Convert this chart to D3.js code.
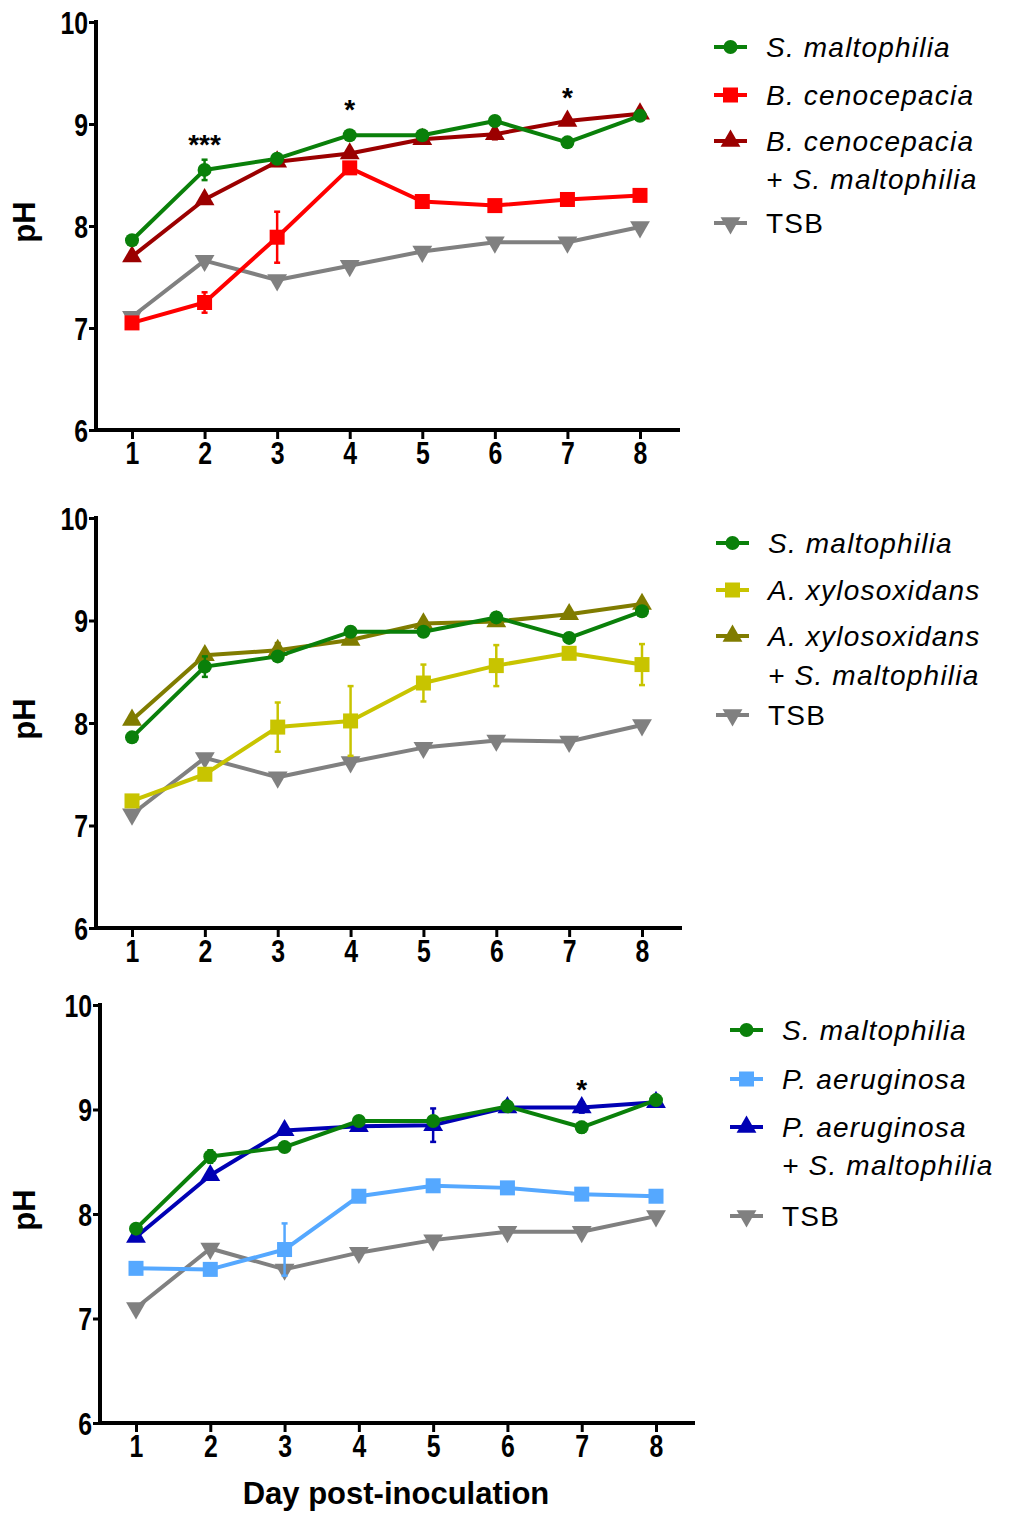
<!DOCTYPE html>
<html>
<head>
<meta charset="utf-8">
<script src="https://cdn.jsdelivr.net/npm/d3@7"></script>
<style>
  body { margin: 0; background: #fff; }
  svg { display: block; }
  text { font-family: "Liberation Sans", Arial, sans-serif; }
</style>
</head>
<body>
<svg id="chart" width="1010" height="1515"></svg>
<script>
var days = [1, 2, 3, 4, 5, 6, 7, 8];
var yTicks = [6, 7, 8, 9, 10];

// panel 1
var smA = [7.86, 8.55, 8.66, 8.89, 8.89, 9.03, 8.82, 9.08];
var smAerr = [0.03, 0.1, 0.03, 0.03, 0.03, 0.03, 0.03, 0.03];
var bc = [7.05, 7.25, 7.89, 8.57, 8.24, 8.20, 8.26, 8.30];
var bcErr = [0.03, 0.1, 0.25, 0.05, 0.03, 0.05, 0.03, 0.03];
var bcSm = [7.70, 8.26, 8.63, 8.71, 8.85, 8.90, 9.03, 9.10];
var bcSmErr = [0.02, 0.03, 0.04, 0.03, 0.03, 0.05, 0.03, 0.03];
var tsb = [7.11, 7.66, 7.47, 7.61, 7.75, 7.84, 7.84, 7.99];
var tsbErr = [0.02, 0.03, 0.03, 0.03, 0.03, 0.03, 0.02, 0.03];

// panel 2
var smB = [7.86, 8.55, 8.65, 8.89, 8.89, 9.03, 8.83, 9.09];
var ax = [7.24, 7.50, 7.96, 8.02, 8.39, 8.56, 8.68, 8.57];
var axErr = [0.03, 0.03, 0.24, 0.34, 0.18, 0.2, 0.05, 0.2];
var axSm = [8.03, 8.66, 8.71, 8.81, 8.97, 8.99, 9.06, 9.16];
var axSmErr = [0.03, 0.03, 0.07, 0.03, 0.03, 0.03, 0.04, 0.04];
var tsbB = [7.11, 7.66, 7.47, 7.62, 7.76, 7.83, 7.82, 7.98];

// panel 3
var smC = [7.86, 8.55, 8.64, 8.89, 8.89, 9.03, 8.83, 9.09];
var smCerr = [0.03, 0.06, 0.03, 0.03, 0.03, 0.03, 0.05, 0.03];
var pa = [7.48, 7.47, 7.66, 8.17, 8.27, 8.25, 8.19, 8.17];
var paErr = [0.02, 0.03, 0.25, 0.03, 0.03, 0.03, 0.03, 0.03];
var paSm = [7.78, 8.37, 8.80, 8.84, 8.85, 9.02, 9.02, 9.07];
var paSmErr = [0.03, 0.03, 0.03, 0.03, 0.16, 0.03, 0.05, 0.03];
var tsbC = [7.10, 7.67, 7.47, 7.63, 7.75, 7.83, 7.83, 7.98];

var panels = [
  {
    top: 22, bottom: 430, axisX: 96, x1: 132, x8: 640, xEnd: 680,
    legX: 714, legY: [47, 95, 141, 223], legSecond: 179,
    series: [
      { name: "S. maltophilia", values: smA, err: smAerr, color: "#0a800a", shape: "circle" },
      { name: "B. cenocepacia", values: bc, err: bcErr, color: "#ff0000", shape: "square" },
      { name: "B. cenocepacia", second: "+ S. maltophilia", values: bcSm, err: bcSmErr, color: "#9b0000", shape: "up" },
      { name: "TSB", values: tsb, err: tsbErr, color: "#808080", shape: "down", plain: true }
    ],
    stars: [{ day: 2, text: "***", y: 8.82 }, { day: 4, text: "*", y: 9.17 }, { day: 7, text: "*", y: 9.28 }]
  },
  {
    top: 518, bottom: 928, axisX: 96, x1: 132, x8: 642, xEnd: 682,
    legX: 716, legY: [543, 590, 636, 715], legSecond: 675,
    series: [
      { name: "S. maltophilia", values: smB, err: smAerr, color: "#0a800a", shape: "circle" },
      { name: "A. xylosoxidans", values: ax, err: axErr, color: "#c8c400", shape: "square" },
      { name: "A. xylosoxidans", second: "+ S. maltophilia", values: axSm, err: axSmErr, color: "#807c00", shape: "up" },
      { name: "TSB", values: tsbB, err: tsbErr, color: "#808080", shape: "down", plain: true }
    ],
    stars: []
  },
  {
    top: 1005, bottom: 1423, axisX: 100, x1: 136, x8: 656, xEnd: 695,
    legX: 730, legY: [1030, 1079, 1127, 1216], legSecond: 1165,
    series: [
      { name: "S. maltophilia", values: smC, err: smCerr, color: "#0a800a", shape: "circle" },
      { name: "P. aeruginosa", values: pa, err: paErr, color: "#55a8ff", shape: "square" },
      { name: "P. aeruginosa", second: "+ S. maltophilia", values: paSm, err: paSmErr, color: "#0000b4", shape: "up" },
      { name: "TSB", values: tsbC, err: tsbErr, color: "#808080", shape: "down", plain: true }
    ],
    stars: [{ day: 7, text: "*", y: 9.22 }]
  }
];

var svg = d3.select("#chart");

function drawMarker(g, shape, color, cx, cy) {
  if (shape === "circle") {
    g.append("circle").attr("cx", cx).attr("cy", cy).attr("r", 7).attr("fill", color);
  } else if (shape === "square") {
    g.append("rect").attr("x", cx - 7.5).attr("y", cy - 7.5).attr("width", 15).attr("height", 15).attr("fill", color);
  } else {
    var sym = d3.symbol().type(d3.symbolTriangle).size(170);
    g.append("path").attr("d", sym())
      .attr("transform", "translate(" + cx + "," + cy + ")" + (shape === "down" ? " rotate(180)" : ""))
      .attr("fill", color);
  }
}

panels.forEach(function (p) {
  var x = d3.scaleLinear().domain([1, 8]).range([p.x1, p.x8]);
  var y = d3.scaleLinear().domain([6, 10]).range([p.bottom, p.top]);
  var g = svg.append("g");

  // axes
  var yAxis = g.append("g").attr("transform", "translate(" + p.axisX + ",0)")
    .call(d3.axisLeft(y).tickValues(yTicks).tickFormat(d3.format("d")).tickSize(7).tickPadding(3).tickSizeOuter(0));
  yAxis.select(".domain").remove();
  yAxis.selectAll(".tick line").attr("stroke-width", 3);
  yAxis.selectAll(".tick text")
    .style("font-size", "31px").style("font-weight", "bold").attr("fill", "#000")
    .attr("dy", "0.36em").attr("transform", "scale(0.8,1)");

  var xAxis = g.append("g").attr("transform", "translate(0," + p.bottom + ")")
    .call(d3.axisBottom(x).tickValues(days).tickFormat(d3.format("d")).tickSize(9).tickPadding(3).tickSizeOuter(0));
  xAxis.select(".domain").remove();
  xAxis.selectAll(".tick line").attr("stroke-width", 3);
  xAxis.selectAll(".tick text")
    .style("font-size", "31px").style("font-weight", "bold").attr("fill", "#000")
    .attr("transform", "scale(0.8,1)");

  g.append("line").attr("x1", p.axisX).attr("x2", p.axisX)
    .attr("y1", p.top - 2).attr("y2", p.bottom + 2).attr("stroke", "#000").attr("stroke-width", 4);
  g.append("line").attr("x1", p.axisX - 2).attr("x2", p.xEnd)
    .attr("y1", p.bottom).attr("y2", p.bottom).attr("stroke", "#000").attr("stroke-width", 4);

  g.append("text")
    .attr("transform", "translate(35," + (y(8) - 4) + ") rotate(-90)")
    .attr("text-anchor", "middle")
    .style("font-weight", "bold").style("font-size", "31px")
    .text("pH");

  var line = d3.line().x(function (d, i) { return x(days[i]); }).y(function (d) { return y(d); });

  // draw TSB first, then others so S. maltophilia sits on top
  var order = [3, 1, 2, 0];
  order.forEach(function (k) {
    var s = p.series[k];
    var sg = g.append("g");
    sg.append("path").datum(s.values).attr("d", line)
      .attr("fill", "none").attr("stroke", s.color).attr("stroke-width", 4).attr("stroke-linejoin", "round");
    s.values.forEach(function (v, i) {
      var e = s.err[i];
      var cx = x(days[i]);
      sg.append("line").attr("x1", cx).attr("x2", cx).attr("y1", y(v - e)).attr("y2", y(v + e))
        .attr("stroke", s.color).attr("stroke-width", 2.5);
      [v - e, v + e].forEach(function (w) {
        sg.append("line").attr("x1", cx - 3).attr("x2", cx + 3).attr("y1", y(w)).attr("y2", y(w))
          .attr("stroke", s.color).attr("stroke-width", 2.5);
      });
      drawMarker(sg, s.shape, s.color, cx, y(v));
    });
  });

  p.stars.forEach(function (st) {
    g.append("text").attr("x", x(st.day)).attr("y", y(st.y) + 12)
      .attr("text-anchor", "middle")
      .style("font-weight", "bold").style("font-size", "28px")
      .text(st.text);
  });

  // legend
  p.series.forEach(function (s, k) {
    var ly = p.legY[k];
    var lg = g.append("g");
    lg.append("line").attr("x1", p.legX).attr("x2", p.legX + 33).attr("y1", ly).attr("y2", ly)
      .attr("stroke", s.color).attr("stroke-width", 4);
    drawMarker(lg, s.shape, s.color, p.legX + 16.5, ly);
    var tx = p.legX + 52;
    lg.append("text").attr("x", tx).attr("y", ly + 10)
      .style("font-size", "28px").style("letter-spacing", "1.2px")
      .style("font-style", s.plain ? "normal" : "italic")
      .text(s.name);
    if (s.second) {
      lg.append("text").attr("x", tx).attr("y", p.legSecond + 10)
        .style("font-size", "28px").style("letter-spacing", "1.2px").style("font-style", "italic")
        .text(s.second);
    }
  });
});

svg.append("text").attr("x", 396).attr("y", 1504)
  .attr("text-anchor", "middle")
  .style("font-weight", "bold").style("font-size", "31px")
  .text("Day post-inoculation");
</script>
</body>
</html>
